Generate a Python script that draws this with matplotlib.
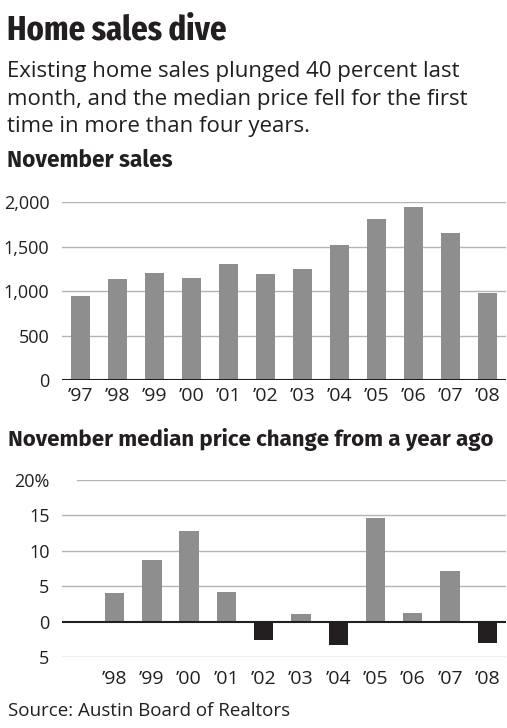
import matplotlib.pyplot as plt
from matplotlib import font_manager as fm

years = ["’97", "’98", "’99", "’00", "’01", "’02", "’03", "’04", "’05", "’06", "’07", "’08"]
sales = [942, 1140, 1208, 1152, 1309, 1189, 1246, 1523, 1809, 1951, 1655, 979]

price_years = ["’98", "’99", "’00", "’01", "’02", "’03", "’04", "’05", "’06", "’07", "’08"]
price_change = [4.0, 8.7, 12.8, 4.2, -2.6, 1.1, -3.3, 14.7, 1.2, 7.1, -3.0]

sales_ticks = [0, 500, 1000, 1500, 2000]
sales_labels = ["0", "500", "1,000", "1,500", "2,000"]
price_ticks = [-5, 0, 5, 10, 15, 20]
price_labels = ["5", "0", "5", "10", "15", "20%"]

W, H = 507, 728
BAR = "#8e8e8e"
NEG = "#231f20"
GRID = "#b4b4b4"
TXT = "#231f20"


def pick_bold(cands):
    # first family that really has a bold face installed
    for name in cands:
        for f in fm.fontManager.ttflist:
            if f.name == name and f.weight >= 600 and f.style == "normal":
                return [name, "DejaVu Sans"]
    return ["DejaVu Sans"]


HEAD = pick_bold(["Fira Sans Extra Condensed", "Fira Sans Condensed", "Barlow Condensed",
                  "Roboto Condensed", "IBM Plex Sans Condensed", "Liberation Sans"])
SUBHEAD = pick_bold(["Fira Sans", "Lato", "Roboto", "Liberation Sans"])
BODY = ["Open Sans", "DejaVu Sans"]

fig = plt.figure(figsize=(W / 100, H / 100), dpi=100)
renderer = fig.canvas.get_renderer()


def fit_text(x, y, s, width, size, **kw):
    # shrink/grow font so the text spans the same width as in the reference
    t = fig.text(x / W, 1 - y / H, s, fontsize=size, color=TXT, va="baseline", **kw)
    w = t.get_window_extent(renderer).width
    t.set_fontsize(size * width / w)
    return t


def px_axes(left, top, right, bottom):
    return fig.add_axes([left / W, 1 - bottom / H, (right - left) / W, (bottom - top) / H])


def style(ax):
    for s in ax.spines.values():
        s.set_visible(False)
    ax.tick_params(length=0, labelcolor=TXT)
    ax.tick_params(axis="y", labelsize=13, pad=9)
    ax.tick_params(axis="x", labelsize=14)
    for lab in ax.get_xticklabels() + ax.get_yticklabels():
        lab.set_fontfamily(BODY)


# titles
fit_text(7, 40, "Home sales dive", 220, 28, fontweight="bold", family=HEAD)
sub = ["Existing home sales plunged 40 percent last",
       "month, and the median price fell for the first",
       "time in more than four years."]
for i, line in enumerate(sub):
    fig.text(7 / W, 1 - (77 + i * 27.5) / H, line, fontsize=16, family=BODY,
             color=TXT, va="baseline")
fit_text(7, 167, "November sales", 165, 14, fontweight="bold", family=SUBHEAD)
fit_text(8, 446, "November median price change from a year ago", 485, 14,
         fontweight="bold", family=SUBHEAD)
fig.text(8 / W, 1 - 716 / H, "Source: Austin Board of Realtors", fontsize=13.5,
         family=BODY, color=TXT, va="baseline")

# top chart
ax1 = px_axes(62, 202.3, 506, 380)
x1 = list(range(len(years)))
ax1.bar(x1, sales, width=0.52, color=BAR, zorder=2)
for t in sales_ticks[1:]:
    ax1.axhline(t, color=GRID, lw=1, zorder=1)
ax1.axhline(0, color=TXT, lw=1.5, zorder=3)
ax1.set_xlim(-0.5, 11.5)
ax1.set_ylim(0, 2000)
ax1.set_yticks(sales_ticks)
ax1.set_yticklabels(sales_labels)
ax1.set_xticks(x1)
ax1.set_xticklabels(years)
style(ax1)
ax1.tick_params(axis="x", pad=5)

# bottom chart
ax2 = px_axes(62, 480, 506, 657.3)
x2 = list(range(1, len(price_years) + 1))
colors = [BAR if v >= 0 else NEG for v in price_change]
ax2.bar(x2, price_change, width=0.52, color=colors, zorder=2)
for t in price_ticks:
    if t == 0:
        continue
    ax2.axhline(t, xmin=0.034 if t == 20 else 0, color=GRID, lw=1, zorder=1)
ax2.axhline(0, color=TXT, lw=1.5, zorder=3)
ax2.set_xlim(-0.41, 11.5)
ax2.set_ylim(-5, 20)
ax2.set_yticks(price_ticks)
ax2.set_yticklabels(price_labels)
ax2.set_xticks(x2)
ax2.set_xticklabels(price_years)
style(ax2)
ax2.tick_params(axis="x", pad=9)

fig.savefig("out.png", dpi=100)
